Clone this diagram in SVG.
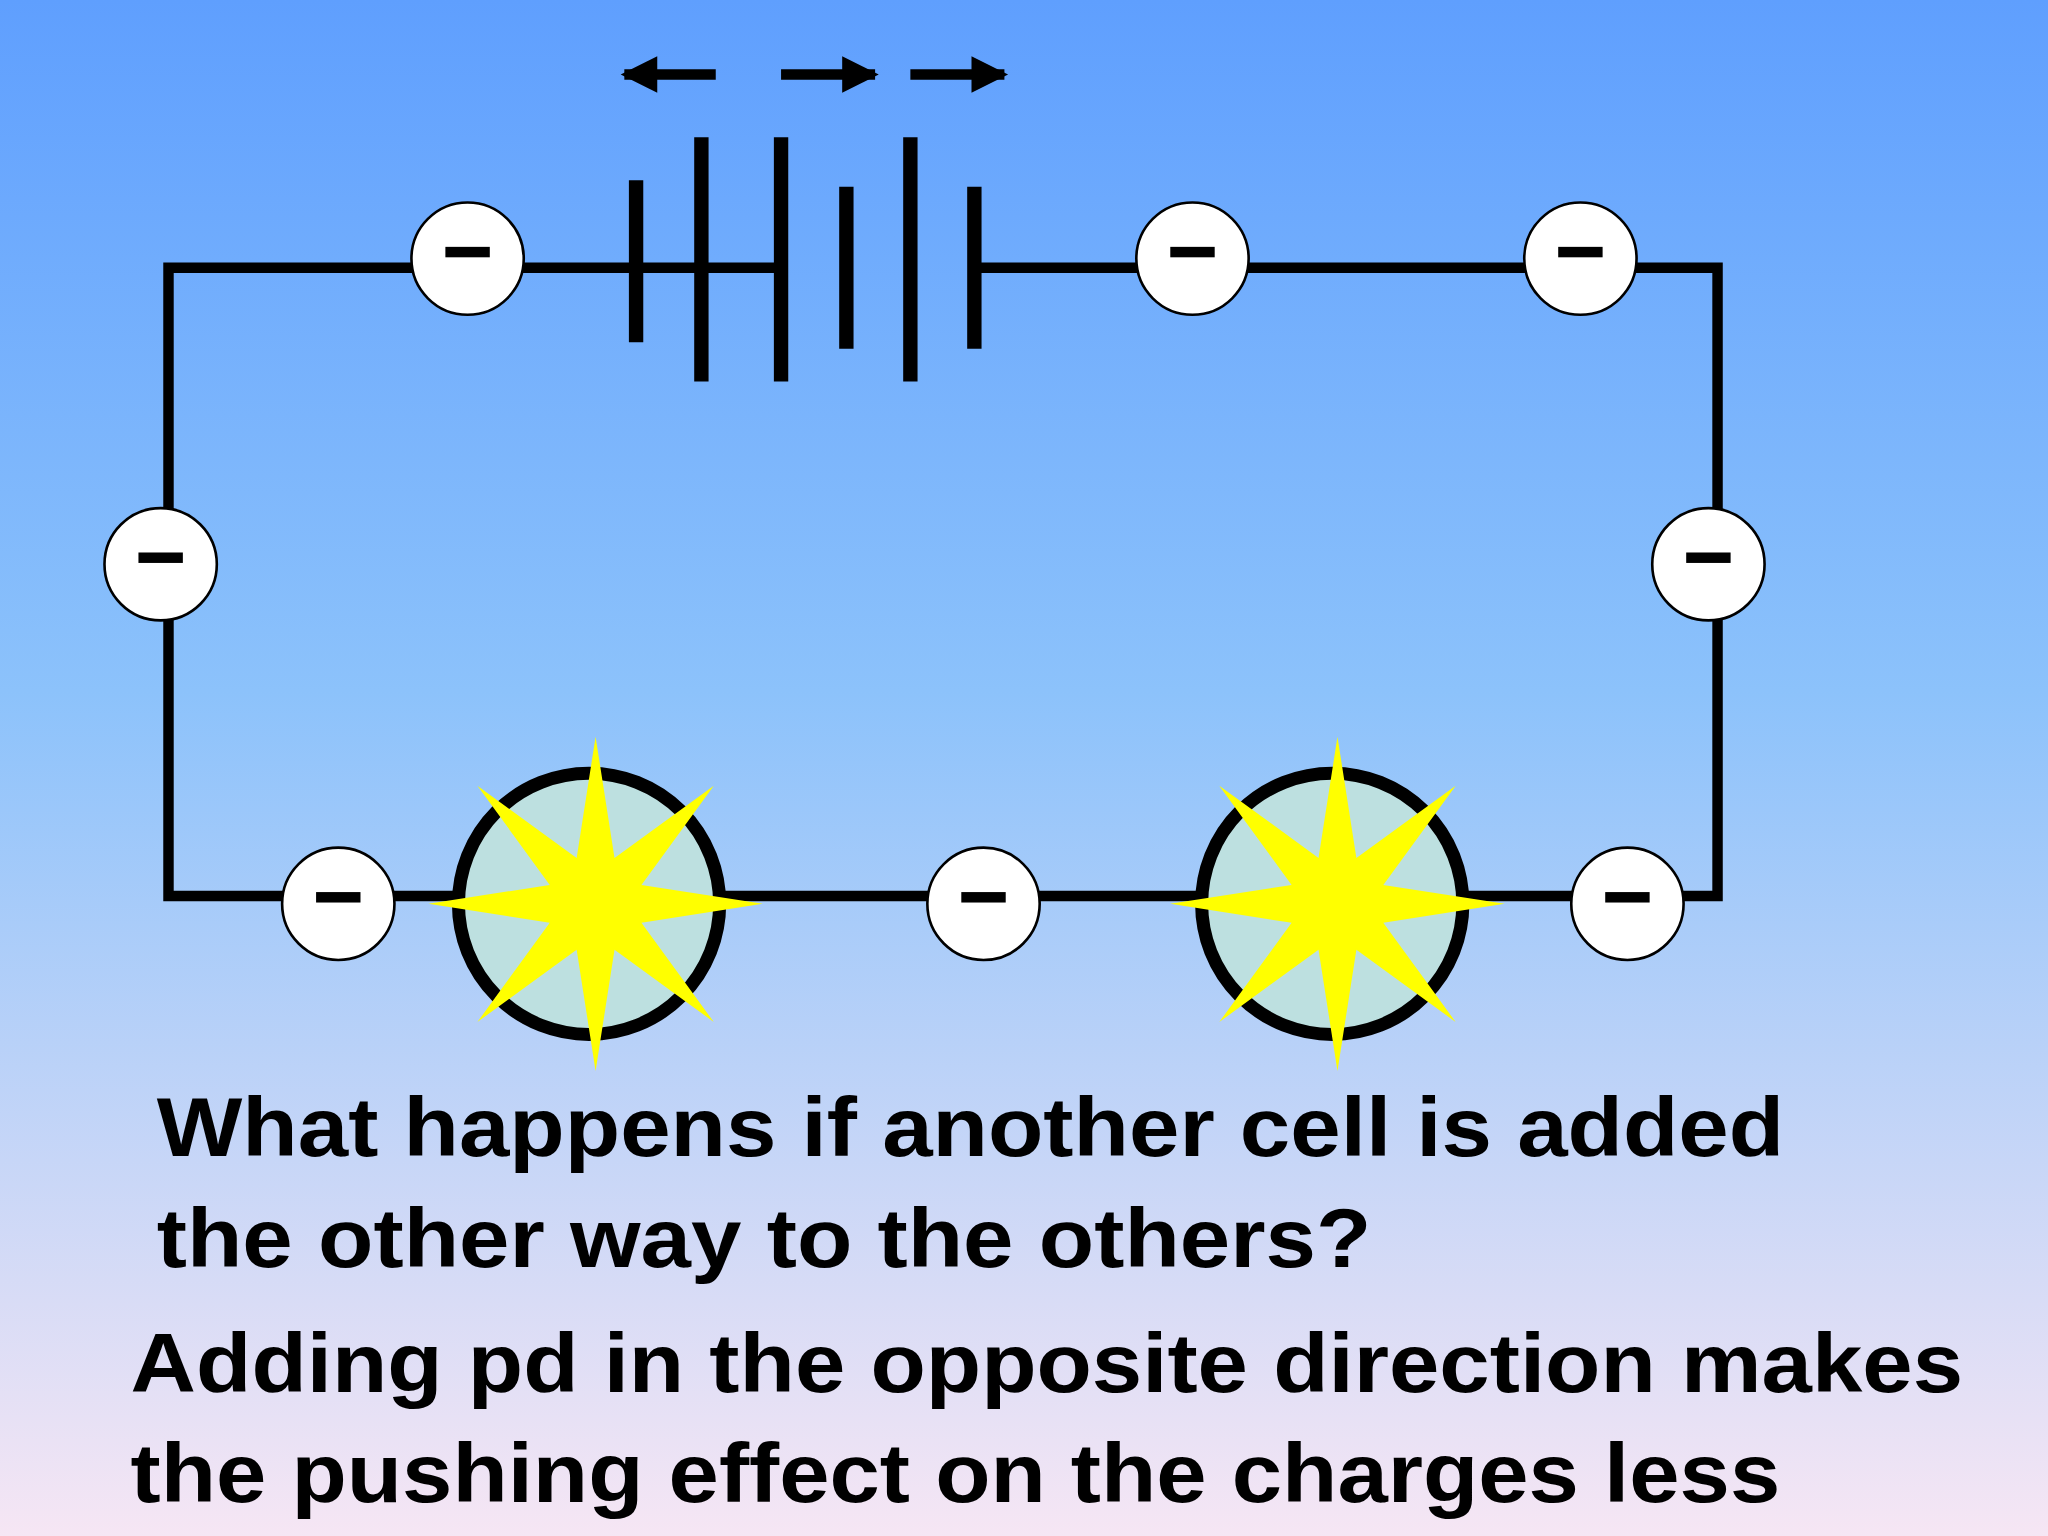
<svg xmlns="http://www.w3.org/2000/svg" xmlns:xlink="http://www.w3.org/1999/xlink" width="2048" height="1536" viewBox="0 0 2048 1536">
<defs>
<linearGradient id="bg" x1="0" y1="0" x2="0" y2="1">
<stop offset="0" stop-color="#5f9ffe"/>
<stop offset="0.45" stop-color="#8cc2fb"/>
<stop offset="1" stop-color="#f6e6f4"/>
</linearGradient>
<marker id="ah" viewBox="0 0 10 10" refX="9" refY="5" markerWidth="4.5" markerHeight="3.5" orient="auto" markerUnits="strokeWidth"><path d="M0,0 L10,5 L0,10 z" fill="#000"/></marker>
<polygon id="star" fill="#ffff00" points="0,-128 14.5,-35.1 90.5,-90.5 35.1,-14.5 128,0 35.1,14.5 90.5,90.5 14.5,35.1 0,128 -14.5,35.1 -90.5,90.5 -35.1,14.5 -128,0 -35.1,-14.5 -90.5,-90.5 -14.5,-35.1"/>
<g id="charge"><circle r="43" fill="#fff" stroke="#000" stroke-width="2"/><rect x="-17" y="-9" width="34" height="8" fill="#000"/></g>
</defs>
<style>
.w{stroke:#000;stroke-width:8;fill:none}
.p{stroke:#000;stroke-width:11}
.t{font-family:"Liberation Sans",Arial,sans-serif;font-weight:bold;font-size:64px;fill:#000}
</style>
<rect width="2048" height="1536" fill="url(#bg)"/>
<g transform="scale(1.30612)">
<g id="connectors">
<path class="w" d="M487,205 H129 V686 H1315 V205 H746"/>
<path class="w" d="M487,205 H598"/>
<line class="w" x1="548" y1="57" x2="478" y2="57" stroke-width="6" marker-end="url(#ah)"/>
<line class="w" x1="598" y1="57" x2="670" y2="57" stroke-width="6" marker-end="url(#ah)"/>
<line class="w" x1="697" y1="57" x2="769" y2="57" stroke-width="6" marker-end="url(#ah)"/>
</g>
<g id="battery">
<line class="p" x1="487" y1="138" x2="487" y2="262"/>
<line class="p" x1="537" y1="105" x2="537" y2="292"/>
<line class="p" x1="598" y1="105" x2="598" y2="292"/>
<line class="p" x1="648" y1="143" x2="648" y2="267"/>
<line class="p" x1="697" y1="105" x2="697" y2="292"/>
<line class="p" x1="746" y1="143" x2="746" y2="267"/>
</g>
<g id="bulb1"><circle cx="451" cy="692" r="100" fill="#bde0e0" stroke="#000" stroke-width="10"/><use xlink:href="#star" x="456" y="692"/></g>
<g id="bulb2"><circle cx="1020" cy="692" r="100" fill="#bde0e0" stroke="#000" stroke-width="10"/><use xlink:href="#star" x="1024" y="692"/></g>
<g id="charges">
<use xlink:href="#charge" x="358" y="198"/>
<use xlink:href="#charge" x="913" y="198"/>
<use xlink:href="#charge" x="1210" y="198"/>
<use xlink:href="#charge" x="123" y="432"/>
<use xlink:href="#charge" x="1308" y="432"/>
<use xlink:href="#charge" x="259" y="692"/>
<use xlink:href="#charge" x="753" y="692"/>
<use xlink:href="#charge" x="1246" y="692"/>
</g>
<g id="text">
<text class="t" x="120" y="885" textLength="1246" lengthAdjust="spacingAndGlyphs">What happens if another cell is added</text>
<text class="t" x="120" y="970" textLength="930" lengthAdjust="spacingAndGlyphs">the other way to the others?</text>
<text class="t" x="100" y="1066" textLength="1403" lengthAdjust="spacingAndGlyphs">Adding pd in the opposite direction makes</text>
<text class="t" x="100" y="1150" textLength="1263" lengthAdjust="spacingAndGlyphs">the pushing effect on the charges less</text>
</g>
</g>
</svg>
